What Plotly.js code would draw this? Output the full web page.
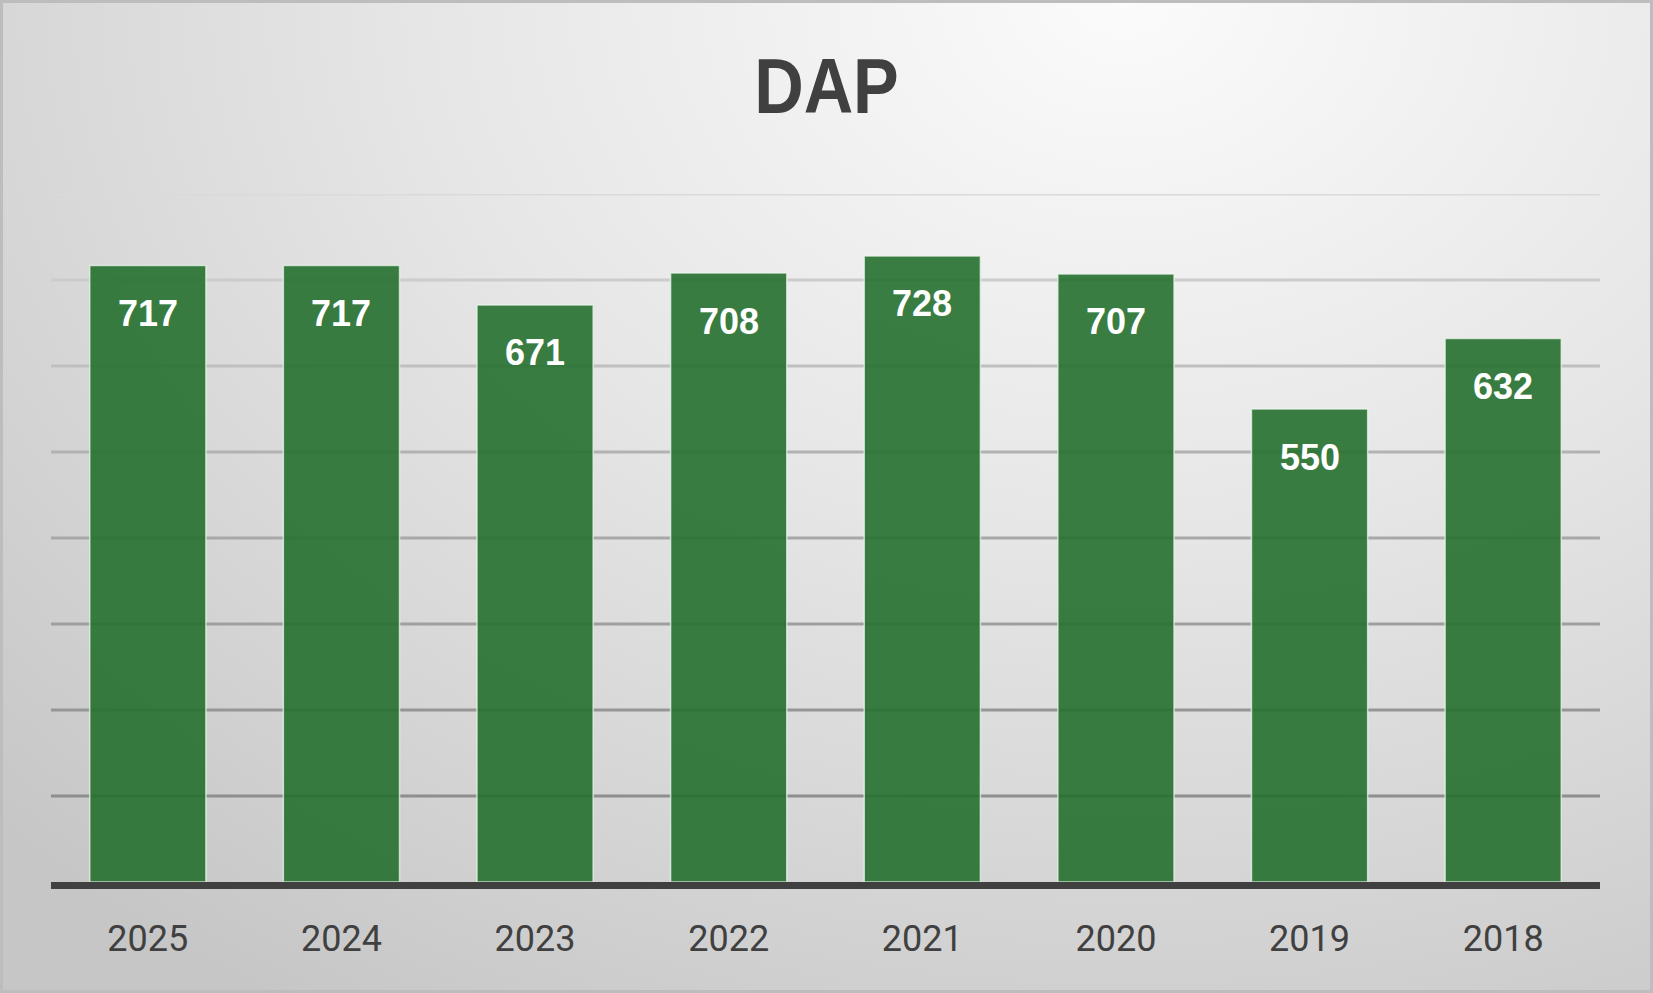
<!DOCTYPE html>
<html>
<head>
<meta charset="utf-8">
<script src="https://cdn.plot.ly/plotly-3.0.1.min.js"></script>
<style>
  html, body { margin: 0; padding: 0; }
  #barplot_dap {
    width: 1653px;
    height: 993px;
    background: radial-gradient(ellipse 95% 120% at 68% 0%, #fbfbfb 0%, #e6e6e6 45%, #d2d2d2 80%, #c6c6c6 100%);
    box-shadow: inset 0 0 0 3px #bdbdbd;
  }
  /* the original title face is a narrow bold sans */
  #barplot_dap .gtitle {
    transform-box: fill-box;
    transform-origin: center;
    transform: scaleX(0.89);
  }
</style>
</head>
<body>
<div id="barplot_dap"></div>
<script>
// values
var years = ["2025", "2024", "2023", "2022", "2021", "2020", "2019", "2018"];
var dap_values = [717, 717, 671, 708, 728, 707, 550, 632];
var grid_levels = [100, 200, 300, 400, 500, 600, 700, 800];
var grid_colors = ["#8e8e8e", "#969696", "#9f9f9f", "#a8a8a8", "#b2b2b2", "#bfbfbf", "#cccccc", "#dadada"];

var barGreen = "rgba(37,112,47,0.9)";
var textDark = "#404040";

function dapBarPlotMain() {
  // gridlines get lighter towards the top, so draw them as shapes
  let grid_shapes = [];
  for (var i = 0; i < grid_levels.length; i++) {
    grid_shapes.push({
      type: 'line',
      xref: 'paper',
      yref: 'y',
      x0: 0,
      x1: 1,
      y0: grid_levels[i],
      y1: grid_levels[i],
      layer: 'below',
      line: {color: grid_colors[i], width: 3}
    });
  }

  // value labels sit inside the top of each bar
  // (x is the category index, a "2025" string would be read as index 2025)
  let label_annotations = [];
  for (var i = 0; i < years.length; i++) {
    label_annotations.push({
      x: i,
      y: dap_values[i],
      xref: 'x',
      yref: 'y',
      yanchor: 'middle',
      yshift: -48,
      text: String(dap_values[i]),
      showarrow: false,
      font: {family: 'Liberation Sans, Arial, sans-serif', size: 36, color: '#ffffff', weight: 'bold'}
    });
  }

  barplot_data = [{
    x: years,
    y: dap_values,
    type: 'bar',
    hoverinfo: 'none',
    marker: {
      color: barGreen,
      line: {color: 'rgba(235,245,235,0.75)', width: 1.5}
    }
  }];

  layout = {
    width: 1653,
    height: 993,
    paper_bgcolor: 'rgba(0,0,0,0)',
    plot_bgcolor: 'rgba(0,0,0,0)',
    margin: {l: 51, r: 53, t: 194, b: 111},
    bargap: 0.4,
    showlegend: false,
    title: {
      text: '<b>DAP</b>',
      x: 0.5,
      xanchor: 'center',
      y: 1 - 86 / 993,
      yanchor: 'middle',
      font: {family: 'Liberation Sans, Arial, sans-serif', size: 77, color: textDark}
    },
    xaxis: {
      type: 'category',
      categoryorder: 'array',
      categoryarray: years,
      showgrid: false,
      zeroline: false,
      showline: true,
      linecolor: textDark,
      linewidth: 7,
      ticks: '',
      ticklabelstandoff: 19,
      tickfont: {family: 'Roboto, Liberation Sans, sans-serif', size: 36, color: textDark}
    },
    yaxis: {
      range: [0, 800],
      showgrid: false,
      zeroline: false,
      showticklabels: false,
      ticks: ''
    },
    shapes: grid_shapes,
    annotations: label_annotations
  };

  Plotly.newPlot('barplot_dap', barplot_data, layout, {displayModeBar: false, staticPlot: true});
}

dapBarPlotMain();
</script>
</body>
</html>
